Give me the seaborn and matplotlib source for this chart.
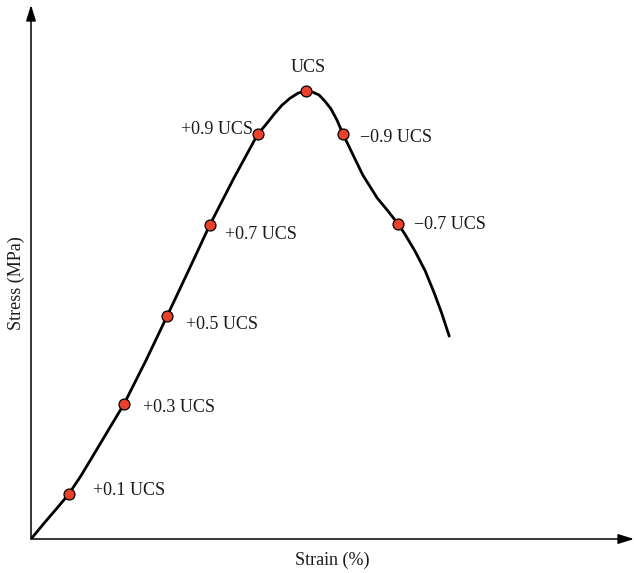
"""Stress-strain curve with UCS fraction markers."""

import matplotlib
matplotlib.use("Agg")
import matplotlib.pyplot as plt
import pandas as pd
import seaborn as sns

# curve (strain in %, stress in MPa)
strain = [0.00, 0.23, 0.43, 0.63, 0.83, 1.02, 1.28, 1.55, 1.92, 2.27, 2.63,
          2.98, 3.38, 3.78, 3.92, 4.05, 4.18, 4.32, 4.45, 4.58, 4.70, 4.80,
          4.90, 5.00, 5.10, 5.20, 5.37, 5.53, 5.77, 5.95, 6.12, 6.23, 6.40,
          6.57, 6.72, 6.85, 6.97]
stress = [0.0, 3.7, 6.8, 10.0, 14.0, 18.2, 24.0, 30.0, 39.8, 49.6, 59.8,
          69.8, 80.2, 90.0, 92.2, 94.4, 96.4, 98.0, 99.1, 99.6, 99.3, 98.7,
          97.3, 95.6, 93.1, 90.0, 85.3, 80.9, 75.8, 72.9, 70.0, 67.8, 64.0,
          59.6, 54.7, 50.0, 45.1]

# marked points
point_strain = [0.63, 1.55, 2.27, 2.98, 3.78, 4.58, 5.20, 6.12]
point_stress = [10.0, 30.0, 49.6, 69.8, 90.0, 99.6, 90.0, 70.0]
point_labels = ["+0.1 UCS", "+0.3 UCS", "+0.5 UCS", "+0.7 UCS", "+0.9 UCS",
                "UCS", "\u22120.9 UCS", "\u22120.7 UCS"]

# label placement (pixel offsets from each marker, alignment)
label_offsets = [(24, 4), (19, -3), (19, -9), (15, -10), (-5, 5), (2, 23),
                 (17, -3), (16, 0)]
label_ha = ["left", "left", "left", "left", "right", "center", "left", "left"]

sns.set_theme(style="white")
plt.rcParams["font.family"] = ["Liberation Serif", "DejaVu Serif"]

curve = pd.DataFrame({"strain": strain, "stress": stress})
points = pd.DataFrame({"strain": point_strain, "stress": point_stress})

fig = plt.figure(figsize=(6.34, 5.73), dpi=100)
ax = fig.add_axes([31 / 634, 34 / 573, 603 / 634, 534 / 573])

sns.lineplot(data=curve, x="strain", y="stress", sort=False, estimator=None,
             color="black", linewidth=2.0, ax=ax, zorder=2,
             solid_joinstyle="round", solid_capstyle="round")
sns.scatterplot(data=points, x="strain", y="stress", color="#e8432a",
                edgecolor="black", linewidth=0.9, s=62, ax=ax, zorder=3)

for x, y, text, off, ha in zip(point_strain, point_stress, point_labels,
                               label_offsets, label_ha):
    ax.annotate(text, (x, y), xytext=off, textcoords="offset pixels",
                ha=ha, va="center", fontsize=13, color="#1a1a1a")

ax.set_xlim(0, 10.05)
ax.set_ylim(0, 118.7)
ax.set_xticks([])
ax.set_yticks([])
ax.set_xlabel("")
ax.set_ylabel("")
for spine in ax.spines.values():
    spine.set_visible(False)

# axes with arrow heads
arrow = dict(arrowstyle="-|>,head_length=0.8,head_width=0.25", color="black",
             lw=1.1, shrinkA=0, shrinkB=0)
ax.annotate("", xy=(1, 0), xytext=(0, 0), xycoords="axes fraction",
            arrowprops=arrow, annotation_clip=False)
ax.annotate("", xy=(0, 1), xytext=(0, 0), xycoords="axes fraction",
            arrowprops=arrow, annotation_clip=False)

fig.text(332 / 634, 1 - 560 / 573, "Strain (%)", ha="center", va="center",
         fontsize=13, color="#1a1a1a")
fig.text(16 / 634, 1 - 283 / 573, "Stress (MPa)", ha="center", va="center",
         rotation=90, fontsize=13, color="#1a1a1a")

fig.savefig("out.png", dpi=100)
plt.close(fig)
